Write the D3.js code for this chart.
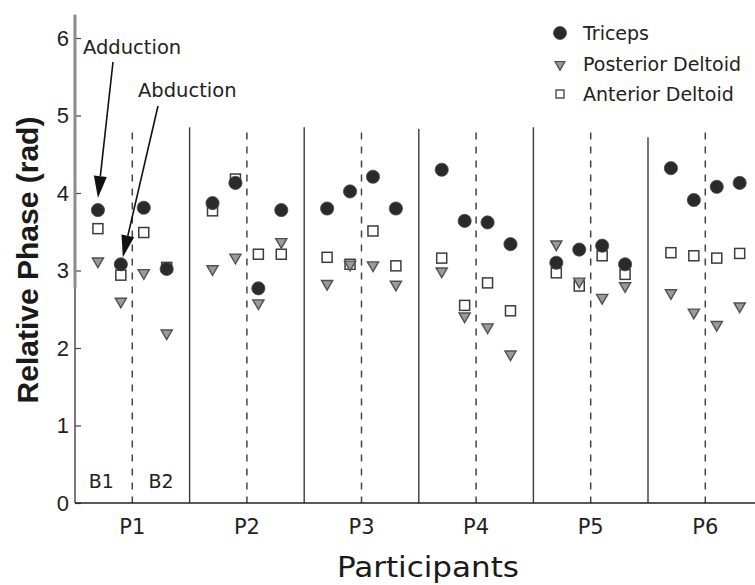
<!DOCTYPE html>
<html><head><meta charset="utf-8">
<script src="https://cdn.jsdelivr.net/npm/d3@7"></script>
<style>html,body{margin:0;padding:0;background:#fff;} svg{display:block;}</style>
</head><body>
<svg id="chart" width="755" height="585"></svg>
<script>
// Participants and blocks along the x axis
const participants = ["P1", "P2", "P3", "P4", "P5", "P6"];
const blockLabels = ["B1", "B2"];
const yTicks = [0, 1, 2, 3, 4, 5, 6];

// Relative phase (rad) per participant, in the order:
// B1 adduction, B1 abduction, B2 adduction, B2 abduction
const triceps = [
  [3.78, 3.08, 3.81, 3.02],
  [3.87, 4.13, 2.77, 3.78],
  [3.80, 4.02, 4.21, 3.80],
  [4.30, 3.64, 3.62, 3.34],
  [3.10, 3.27, 3.32, 3.08],
  [4.32, 3.91, 4.08, 4.13]
];
const posteriorDeltoid = [
  [3.12, 2.60, 2.97, 2.19],
  [3.02, 3.17, 2.58, 3.37],
  [2.83, 3.08, 3.07, 2.82],
  [2.99, 2.41, 2.27, 1.92],
  [3.34, 2.86, 2.65, 2.80],
  [2.71, 2.46, 2.30, 2.54]
];
const anteriorDeltoid = [
  [3.54, 2.94, 3.49, 3.04],
  [3.77, 4.18, 3.21, 3.21],
  [3.17, 3.08, 3.51, 3.06],
  [3.16, 2.55, 2.84, 2.48],
  [2.97, 2.80, 3.19, 2.95],
  [3.23, 3.19, 3.16, 3.22]
];
const seriesNames = ["Triceps", "Posterior Deltoid", "Anterior Deltoid"];

const svg = d3.select("#chart");
const x = d3.scaleLinear().domain([0, 6]).range([75, 762.6]);
const y = d3.scaleLinear().domain([0, 6]).range([503, 38]);

const narrow = "'Liberation Sans Narrow','DejaVu Sans Condensed','Roboto Condensed','Liberation Sans',Arial,sans-serif";
const plain = "'DejaVu Sans',Verdana,sans-serif";
const helv = "'Liberation Sans',Arial,Helvetica,sans-serif";

// Panel separators (solid) and block separators (dashed)
const sepTops = [4.85, 4.85, 4.83, 4.85, 4.72];
d3.range(1, 6).forEach((i) => {
  svg.append("line")
    .attr("x1", x(i)).attr("x2", x(i))
    .attr("y1", y(sepTops[i - 1])).attr("y2", y(0))
    .attr("stroke", "#3a3a3a").attr("stroke-width", 1.4);
});
participants.forEach((p, i) => {
  svg.append("line")
    .attr("x1", x(i + 0.5)).attr("x2", x(i + 0.5))
    .attr("y1", y(4.78)).attr("y2", y(0))
    .attr("stroke", "#444").attr("stroke-width", 1.5)
    .attr("stroke-dasharray", "7,7");
});

// Y axis
const yAxis = d3.axisRight(y).tickValues(yTicks).tickSize(6).tickFormat("");
const gy = svg.append("g").attr("transform", `translate(${x(0)},0)`).call(yAxis);
gy.select(".domain").remove();
gy.selectAll(".tick line").attr("stroke", "#444").attr("stroke-width", 1.2);
svg.append("line")
  .attr("x1", x(0)).attr("x2", x(0)).attr("y1", y(0)).attr("y2", y(6.3))
  .attr("stroke", "#333").attr("stroke-width", 1.3);
svg.append("line")
  .attr("x1", x(0)).attr("x2", x(0)).attr("y1", y(2.78)).attr("y2", y(6.3))
  .attr("stroke", "#8c8c8c").attr("stroke-width", 3);
svg.selectAll("text.ytick").data(yTicks).join("text")
  .attr("class", "ytick")
  .attr("x", 69).attr("y", (d) => y(d)).attr("dy", "0.36em")
  .attr("text-anchor", "end")
  .attr("font-family", helv).attr("font-size", 22).attr("fill", "#222")
  .text((d) => d);

// X axis
svg.append("line")
  .attr("x1", x(0)).attr("x2", 755).attr("y1", y(0)).attr("y2", y(0))
  .attr("stroke", "#222").attr("stroke-width", 1.5);
svg.selectAll("text.xlab").data(participants).join("text")
  .attr("class", "xlab")
  .attr("x", (d, i) => x(i + 0.5)).attr("y", 534)
  .attr("text-anchor", "middle")
  .attr("font-family", narrow).attr("font-size", 22).attr("fill", "#222")
  .attr("textLength", 26).attr("lengthAdjust", "spacingAndGlyphs")
  .text((d) => d);
svg.selectAll("text.blk").data(blockLabels).join("text")
  .attr("class", "blk")
  .attr("x", (d, i) => x(0.23 + i * 0.52)).attr("y", 488)
  .attr("text-anchor", "middle")
  .attr("font-family", narrow).attr("font-size", 19).attr("fill", "#222")
  .attr("textLength", 25).attr("lengthAdjust", "spacingAndGlyphs")
  .text((d) => d);

// Axis titles
svg.append("text")
  .attr("x", 428).attr("y", 577).attr("text-anchor", "middle")
  .attr("font-family", narrow).attr("font-size", 29).attr("fill", "#1a1a1a")
  .attr("textLength", 182).attr("lengthAdjust", "spacingAndGlyphs")
  .text("Participants");
svg.append("text")
  .attr("transform", "translate(38,260) rotate(-90)")
  .attr("text-anchor", "middle")
  .attr("font-family", helv).attr("font-size", 30).attr("font-weight", "bold")
  .attr("fill", "#1a1a1a")
  .text("Relative Phase (rad)");

// Point positions inside each participant panel
const colX = (pi, k) => x(pi + 0.2 * (k + 1));
const flat = (arr) => arr.flatMap((vals, pi) => vals.map((v, k) => ({ pi, k, v })));

const triSym = d3.symbol().type(d3.symbolTriangle).size(54);
const triSymLegend = d3.symbol().type(d3.symbolTriangle).size(42);

// Anterior deltoid: open squares
svg.selectAll("rect.ant").data(flat(anteriorDeltoid)).join("rect")
  .attr("class", "ant")
  .attr("x", (d) => colX(d.pi, d.k) - 5).attr("y", (d) => y(d.v) - 5)
  .attr("width", 10).attr("height", 10)
  .attr("fill", "#fff").attr("stroke", "#3c3c3c").attr("stroke-width", 1.5);

// Posterior deltoid: grey downward triangles
svg.selectAll("path.post").data(flat(posteriorDeltoid)).join("path")
  .attr("class", "post")
  .attr("d", triSym)
  .attr("transform", (d) => `translate(${colX(d.pi, d.k)},${y(d.v)}) rotate(180)`)
  .attr("fill", "#9a9a9a").attr("stroke", "#505050").attr("stroke-width", 1.4);

// Triceps: filled circles
svg.selectAll("circle.tri").data(flat(triceps)).join("circle")
  .attr("class", "tri")
  .attr("cx", (d) => colX(d.pi, d.k)).attr("cy", (d) => y(d.v))
  .attr("r", 6.6)
  .attr("fill", "#2a2a2a").attr("stroke", "#4a4a4a").attr("stroke-width", 0.8);

// Annotations with arrows pointing at the first two points of P1
function arrow(x1, y1, x2, y2) {
  const ang = Math.atan2(y2 - y1, x2 - x1);
  const len = 22, half = 6.5;
  const bx = x2 - len * Math.cos(ang), by = y2 - len * Math.sin(ang);
  svg.append("line")
    .attr("x1", x1).attr("y1", y1).attr("x2", bx).attr("y2", by)
    .attr("stroke", "#111").attr("stroke-width", 1.6);
  const px = -Math.sin(ang) * half, py = Math.cos(ang) * half;
  svg.append("path")
    .attr("d", `M${x2},${y2}L${bx + px},${by + py}L${bx - px},${by - py}Z`)
    .attr("fill", "#111");
}
svg.append("text").attr("x", 83).attr("y", 54)
  .attr("font-family", plain).attr("font-size", 19.5).attr("fill", "#222")
  .text("Adduction");
svg.append("text").attr("x", 138).attr("y", 97)
  .attr("font-family", plain).attr("font-size", 19.5).attr("fill", "#222")
  .text("Abduction");
arrow(113, 62, colX(0, 0), y(triceps[0][0]) - 12);
arrow(158, 106, colX(0, 1) + 2, y(triceps[0][1]) - 7);

// Legend
const legend = svg.append("g");
const rows = [33, 64.5, 94];
legend.append("circle").attr("cx", 560).attr("cy", rows[0]).attr("r", 6.5)
  .attr("fill", "#2a2a2a").attr("stroke", "#4a4a4a").attr("stroke-width", 0.8);
legend.append("path").attr("d", triSymLegend)
  .attr("transform", `translate(560,${rows[1]}) rotate(180)`)
  .attr("fill", "#9a9a9a").attr("stroke", "#505050").attr("stroke-width", 1.3);
legend.append("rect").attr("x", 556).attr("y", rows[2] - 4).attr("width", 8).attr("height", 8)
  .attr("fill", "#fff").attr("stroke", "#3c3c3c").attr("stroke-width", 1.3);
legend.selectAll("text").data(seriesNames).join("text")
  .attr("x", 583).attr("y", (d, i) => rows[i]).attr("dy", "0.36em")
  .attr("font-family", plain).attr("font-size", 19).attr("fill", "#222")
  .text((d) => d);
</script>
</body></html>
